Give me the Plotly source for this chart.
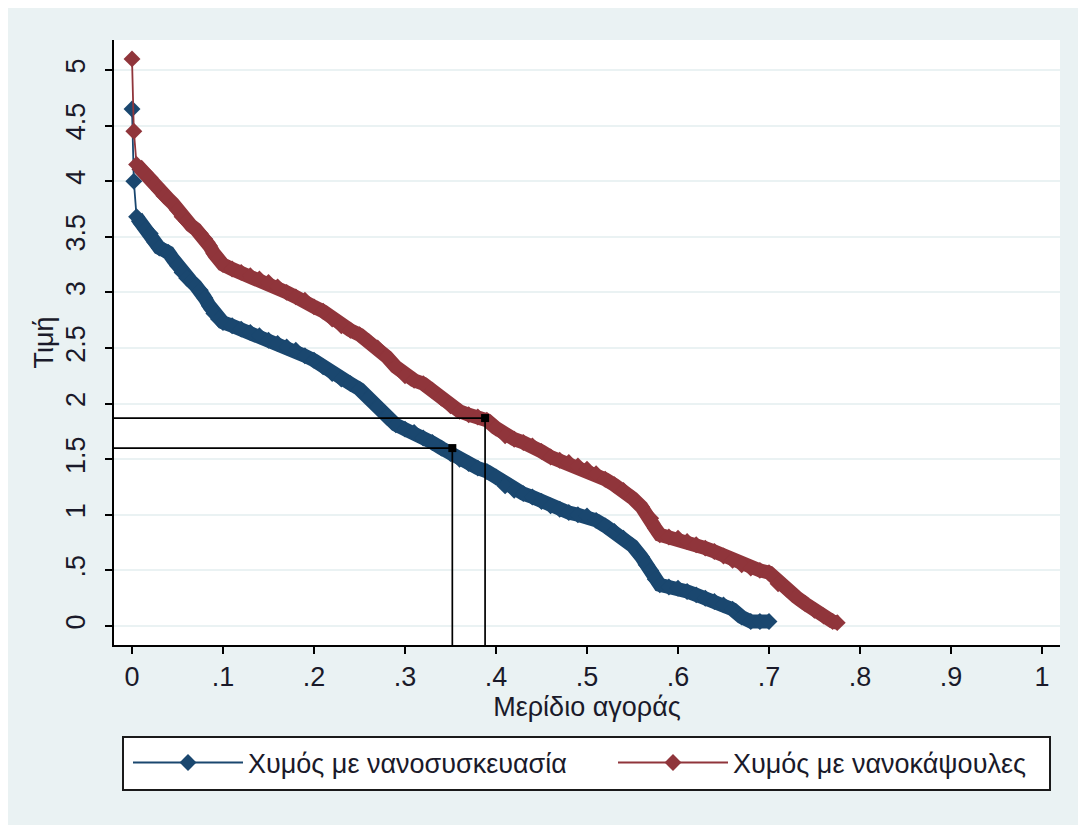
import plotly.graph_objects as go

# ---- data ----
blue_name = "Χυμός με νανοσυσκευασία"
red_name = "Χυμός με νανοκάψουλες"

blue_share = [0.000, 0.002, 0.005, 0.010, 0.015, 0.020, 0.025, 0.030, 0.035, 0.040,
              0.045, 0.050, 0.055, 0.060, 0.065, 0.070, 0.075, 0.080, 0.085, 0.090,
              0.095, 0.100, 0.110, 0.120, 0.130, 0.140, 0.150, 0.160, 0.170, 0.180,
              0.190, 0.200, 0.210, 0.220, 0.230, 0.240, 0.250, 0.260, 0.270, 0.280,
              0.290, 0.300, 0.310, 0.320, 0.330, 0.340, 0.350, 0.360, 0.370, 0.380,
              0.390, 0.400, 0.410, 0.420, 0.430, 0.440, 0.450, 0.460, 0.470, 0.480,
              0.490, 0.500, 0.510, 0.520, 0.530, 0.540, 0.550, 0.560, 0.565, 0.570,
              0.575, 0.580, 0.590, 0.600, 0.610, 0.620, 0.630, 0.640, 0.650, 0.660,
              0.670, 0.680, 0.690, 0.700]
blue_price = [4.65, 4.00, 3.68, 3.62, 3.57, 3.53, 3.45, 3.40, 3.38, 3.36,
              3.30, 3.24, 3.18, 3.13, 3.10, 3.06, 3.02, 2.95, 2.88, 2.81,
              2.76, 2.73, 2.70, 2.67, 2.64, 2.61, 2.57, 2.54, 2.51, 2.48,
              2.43, 2.39, 2.33, 2.27, 2.22, 2.18, 2.13, 2.05, 1.97, 1.88,
              1.81, 1.77, 1.74, 1.69, 1.65, 1.60, 1.55, 1.50, 1.46, 1.42,
              1.39, 1.34, 1.26, 1.22, 1.19, 1.16, 1.12, 1.08, 1.05, 1.02,
              1.00, 0.99, 0.95, 0.90, 0.85, 0.79, 0.72, 0.62, 0.55, 0.50,
              0.42, 0.37, 0.35, 0.34, 0.31, 0.28, 0.25, 0.22, 0.19, 0.15,
              0.08, 0.04, 0.04, 0.04]

red_share = [0.000, 0.002, 0.005, 0.010, 0.015, 0.020, 0.025, 0.030, 0.035, 0.040,
             0.045, 0.050, 0.055, 0.060, 0.065, 0.070, 0.075, 0.080, 0.085, 0.090,
             0.095, 0.100, 0.110, 0.120, 0.130, 0.140, 0.150, 0.160, 0.170, 0.180,
             0.190, 0.200, 0.210, 0.220, 0.230, 0.240, 0.250, 0.260, 0.270, 0.280,
             0.290, 0.300, 0.310, 0.320, 0.330, 0.340, 0.350, 0.360, 0.370, 0.380,
             0.390, 0.400, 0.410, 0.420, 0.430, 0.440, 0.450, 0.460, 0.470, 0.480,
             0.490, 0.500, 0.510, 0.520, 0.530, 0.540, 0.550, 0.560, 0.570, 0.575,
             0.580, 0.590, 0.600, 0.610, 0.620, 0.630, 0.640, 0.650, 0.660, 0.670,
             0.680, 0.690, 0.700, 0.705, 0.710, 0.720, 0.730, 0.740, 0.750, 0.760,
             0.770, 0.775]
red_price = [5.10, 4.45, 4.15, 4.10, 4.07, 4.03, 3.97, 3.92, 3.87, 3.84,
             3.80, 3.74, 3.68, 3.64, 3.60, 3.57, 3.53, 3.48, 3.42, 3.35,
             3.30, 3.25, 3.21, 3.18, 3.15, 3.12, 3.09, 3.05, 3.00, 2.96,
             2.93, 2.87, 2.83, 2.76, 2.70, 2.66, 2.62, 2.56, 2.50, 2.42,
             2.33, 2.25, 2.21, 2.18, 2.12, 2.05, 1.98, 1.93, 1.90, 1.88,
             1.85, 1.78, 1.71, 1.68, 1.65, 1.62, 1.57, 1.52, 1.49, 1.47,
             1.44, 1.41, 1.37, 1.32, 1.27, 1.22, 1.15, 1.07, 0.97, 0.88,
             0.82, 0.80, 0.79, 0.76, 0.73, 0.70, 0.67, 0.63, 0.59, 0.55,
             0.52, 0.50, 0.48, 0.44, 0.38, 0.33, 0.26, 0.20, 0.14, 0.09,
             0.04, 0.03]

# reference points (market share, price)
ref_share = [0.352, 0.388]
ref_price = [1.60, 1.87]

x_ticks = [0, 0.1, 0.2, 0.3, 0.4, 0.5, 0.6, 0.7, 0.8, 0.9, 1]
x_ticktext = ["0", ".1", ".2", ".3", ".4", ".5", ".6", ".7", ".8", ".9", "1"]
y_ticks = [0, 0.5, 1, 1.5, 2, 2.5, 3, 3.5, 4, 4.5, 5]
y_ticktext = ["0", ".5", "1", "1.5", "2", "2.5", "3", "3.5", "4", "4.5", "5"]

BLUE = "#1a476f"
RED = "#90353b"
BG = "#eaf2f3"
X_RANGE = [-0.0198, 1.0198]
Y_RANGE = [-0.171, 5.27]

fig = go.Figure()

# thick bands along the dense part of each curve
fig.add_trace(go.Scatter(x=blue_share[2:], y=blue_price[2:], mode="lines",
                         line=dict(color=BLUE, width=14), showlegend=False,
                         hoverinfo="skip"))
fig.add_trace(go.Scatter(x=red_share[2:], y=red_price[2:], mode="lines",
                         line=dict(color=RED, width=14), showlegend=False,
                         hoverinfo="skip"))

# the series themselves (thin line + diamond markers)
fig.add_trace(go.Scatter(x=blue_share, y=blue_price, mode="lines+markers",
                         name=blue_name, legend="legend",
                         line=dict(color=BLUE, width=1.8),
                         marker=dict(symbol="diamond", size=13, color=BLUE,
                                     line=dict(width=0))))
fig.add_trace(go.Scatter(x=red_share, y=red_price, mode="lines+markers",
                         name=red_name, legend="legend2",
                         line=dict(color=RED, width=1.8),
                         marker=dict(symbol="diamond", size=13, color=RED,
                                     line=dict(width=0))))

# reference drop lines with black square markers
for s, p in zip(ref_share, ref_price):
    fig.add_trace(go.Scatter(x=[X_RANGE[0], s, s], y=[p, p, Y_RANGE[0]],
                             mode="lines", line=dict(color="black", width=1.7),
                             showlegend=False, hoverinfo="skip"))
fig.add_trace(go.Scatter(x=ref_share, y=ref_price, mode="markers",
                         marker=dict(symbol="square", size=8, color="black"),
                         showlegend=False, hoverinfo="skip"))

FONT = "Liberation Sans, Arial, sans-serif"
legend_common = dict(orientation="h", yanchor="middle", xanchor="left",
                     y=-0.195, bgcolor="rgba(0,0,0,0)", borderwidth=0,
                     font=dict(family=FONT, size=27, color="#1a1a2a"),
                     itemwidth=110)

fig.update_layout(
    width=1086, height=825,
    margin=dict(l=106, r=34, t=32, b=188),
    paper_bgcolor=BG,
    plot_bgcolor="white",
    font=dict(family=FONT, size=27, color="#1a1a2a"),
    xaxis=dict(range=X_RANGE, tickvals=x_ticks, ticktext=x_ticktext,
               showgrid=False, zeroline=False, showline=True,
               linecolor="black", linewidth=1.8, ticks="outside",
               ticklen=7, tickwidth=1.8, tickcolor="black",
               tickfont=dict(size=27), automargin=False,
               title=dict(text="Μερίδιο αγοράς", font=dict(size=27), standoff=0)),
    yaxis=dict(range=Y_RANGE, tickvals=y_ticks, ticktext=y_ticktext,
               showgrid=True, gridcolor=BG, gridwidth=1.5,
               zeroline=False, showline=True,
               linecolor="black", linewidth=1.8, ticks="outside",
               ticklen=7, tickwidth=1.8, tickcolor="black",
               tickangle=-90, tickfont=dict(size=27), automargin=False,
               ticklabelstandoff=9,
               title=dict(text="Τιμή", font=dict(size=27), standoff=0)),
    legend=dict(x=(128 - 114) / 946, **legend_common),
    legend2=dict(x=(613 - 114) / 946, **legend_common),
    shapes=[
        dict(type="rect", xref="paper", yref="paper",
             x0=(123 - 114) / 946, x1=(1050 - 114) / 946,
             y0=(645 - 790) / 605, y1=(645 - 737) / 605,
             fillcolor="white", line=dict(color="#1a1a1a", width=2),
             layer="below"),
    ],
)

fig.write_html("out.html")
